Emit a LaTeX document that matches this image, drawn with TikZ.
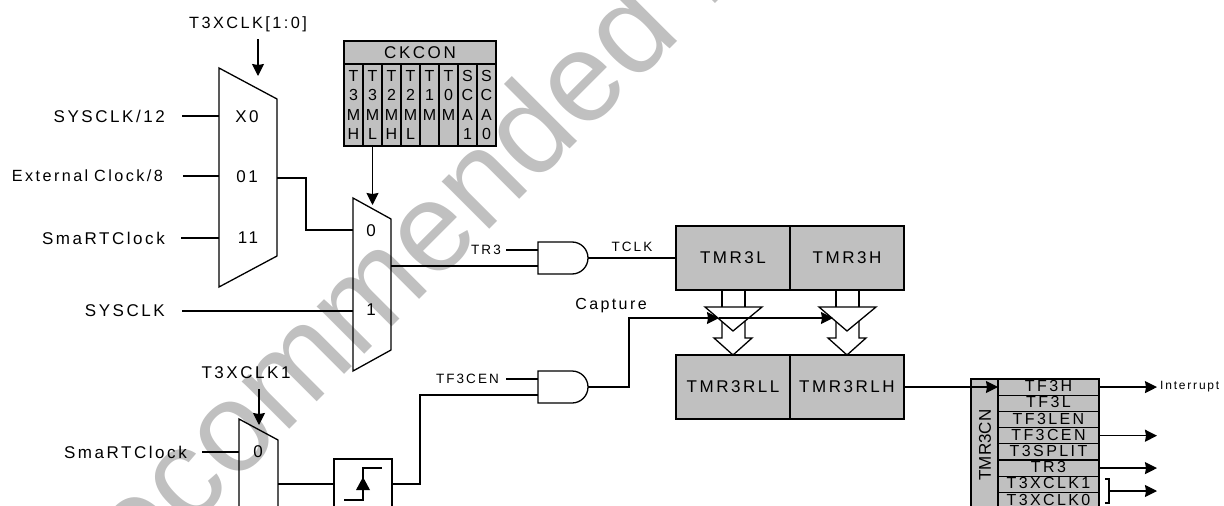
\documentclass[tikz,border=0pt]{standalone}
\usepackage{fontspec}
\setmainfont[LetterSpace=15,WordSpace=0.85]{Liberation Sans}
\newfontfamily\markfont{Liberation Sans}
\definecolor{regfill}{RGB}{192,192,192}
\usetikzlibrary{positioning,arrows.meta,calc}
\begin{document}
\begin{tikzpicture}[x=1pt,y=-1pt,
      wire/.style={line width=1.3pt,black},
      arr/.style={wire,-{Stealth[length=12pt,width=12pt,inset=1pt]}},
      regbox/.style={rectangle,draw,line width=1.3pt,fill=regfill,inner sep=0pt,outer sep=0pt,
                     minimum width=114pt,minimum height=64pt,font=\fontsize{17}{17}\selectfont},
      bitbox/.style={rectangle,draw,line width=1.3pt,fill=regfill,inner sep=0pt,outer sep=0pt,text depth=2pt,
                     minimum width=101pt,minimum height=16.2pt,font=\fontsize{16}{16}\selectfont},
      colbox/.style={rectangle,draw,line width=1.3pt,fill=regfill,inner sep=0pt,outer sep=0pt,anchor=north west,
                     minimum width=19pt,minimum height=82pt,align=center,
                     font=\fontsize{16}{19.3}\selectfont},
      lbl/.style={font=\fontsize{17}{17}\selectfont,inner sep=0pt},
      small/.style={font=\fontsize{13.5}{13.5}\selectfont,inner sep=0pt},
      block/.style={line width=1.3pt,fill=white}]
      \useasboundingbox (0,0) rectangle (1224,506);
      \clip (0,0) rectangle (1224,506);
      % watermark
      \node[rotate=45,text=regfill,inner sep=0pt,anchor=base west,font=\fontsize{127}{127}\markfont] (mark) at (74,645) {Recommended for};
      % first mux
      \draw[wire] (219,68) -- (277,99) -- (277,256) -- (219,287) -- cycle;
      \node[lbl] (x0) at (247,117) {X0};
      \node[lbl] (m01) at (247,177) {01};
      \node[lbl] (m11) at (248,238) {11};
      \coordinate (in0) at (219,116);
      \coordinate (in1) at (219,176);
      \coordinate (in2) at (219,238);
      \coordinate (sel0) at (258,76);
      \node[lbl,anchor=east] (sysdiv) at (165,116) {SYSCLK/12};
      \node[lbl,anchor=east,font=\fontsize{16.2}{17}\selectfont] (extclk) at (163,176) {External Clock/8};
      \node[lbl,anchor=east] (rtc) at (165,238) {SmaRTClock};
      \node[lbl,font=\fontsize{16.3}{17}\selectfont] (t3sel) at (248,24) {T3XCLK[1:0]};
      \draw[wire] (182,116) -- (in0);
      \draw[wire] (183,176) -- (in1);
      \draw[wire] (181,238) -- (in2);
      \draw[arr] (258,39) -- (sel0);
      % second mux
      \draw[wire] (353,198) -- (391,219) -- (391,350) -- (353,371) -- cycle;
      \node[lbl] (m0) at (371,231) {0};
      \node[lbl] (m1) at (371,310) {1};
      \node[lbl,anchor=east] (sysclk) at (165,311) {SYSCLK};
      \draw[wire] (277,178) -- (306,178) -- (306,230) -- (353,230);
      \draw[wire] (182,311) -- (353,311);
      % ckcon
      \node[rectangle,draw,line width=1.3pt,fill=regfill,anchor=north west,inner sep=0pt,outer sep=0pt,
            minimum width=152pt,minimum height=23pt,font=\fontsize{17}{17}\selectfont] (ckcon) at (344,41) {CKCON};
      \foreach \name/\bits [count=\i from 0] in {a/{T\\3\\M\\H},b/{T\\3\\M\\L},c/{T\\2\\M\\H},d/{T\\2\\M\\L},
                                                 e/{T\\1\\M\\~},f/{T\\0\\M\\~},g/{S\\C\\A\\1},h/{S\\C\\A\\0}}
        \node[colbox] (bit\name) at (344+19*\i,64) {\bits};
      \coordinate (sel1) at (372.5,205);
      \draw[arr] (bitb.south) -- (sel1);
      % first and gate
      \draw[wire] (538,242) -- (572,242) arc (90:-90:16 and -16) -- (538,274) -- cycle;
      \coordinate (and1out) at (588,258);
      \node[small] (tr3) at (486,250) {TR3};
      \draw[wire] (506,250) -- (538,250);
      \draw[wire] (391,266) -- (538,266);
      \node[regbox,anchor=north west] (tmrl) at (676,226) {TMR3L};
      \node[regbox,right=0pt of tmrl] (tmrh) {TMR3H};
      \node[regbox,anchor=north west] (rll) at (676,355) {TMR3RLL};
      \node[regbox,right=0pt of rll] (rlh) {TMR3RLH};
      \draw[wire] (and1out) -- (tmrl.west);
      \node[small] (tclk) at (632,247) {TCLK};
      % reload paths
      \foreach \c in {733,847} {
        \draw[wire] (\c-11,290) -- (\c-11,307);
        \draw[wire] (\c+12,290) -- (\c+12,307);
        \draw[block] (\c-11,315) -- (\c-11,338) -- (\c-19,338) -- (\c,355) -- (\c+19,338) -- (\c+12,338) -- (\c+12,315);
        \draw[block] (\c-28,307) -- (\c+29,307) -- (\c,331) -- cycle;
      }
      \node[lbl,font=\fontsize{16}{16}\selectfont] (capture) at (611,306) {Capture};
      % second and gate
      \draw[wire] (538,371) -- (572,371) arc (90:-90:16 and -16) -- (538,403) -- cycle;
      \coordinate (and2out) at (588,387);
      \node[small,anchor=east] (tfcen) at (499,379) {TF3CEN};
      \draw[wire] (506,379) -- (538,379);
      \draw[arr] (and2out) -- (629,387) -- (629,318) -- (719,318);
      \draw[arr] (719,318) -- (833,318);
      % third mux and edge detector
      \draw[wire] (239,419) -- (278,440) -- (278,540) -- (239,540) -- cycle;
      \node[lbl] (m30) at (258,452) {0};
      \node[lbl,anchor=east] (rtc2) at (187,452) {SmaRTClock};
      \node[lbl] (t3bit) at (246,373) {T3XCLK1};
      \draw[wire] (202,452) -- (239,452);
      \draw[arr] (259,389) -- (259,425);
      \node[rectangle,draw,line width=1.3pt,anchor=north west,inner sep=0pt,outer sep=0pt,
            minimum width=58pt,minimum height=70pt] (edge) at (334,459) {};
      \draw[wire] (278,484) -- (334,484);
      \draw[wire] (344,500) -- (363,500) -- (363,468) -- (382,468);
      \fill (363,477) -- (370,490) -- (356,490) -- cycle;
      \draw[wire] (392,484) -- (420,484) -- (420,395) -- (538,395);
      % tmr3cn register
      \node[rectangle,draw,line width=1.3pt,fill=regfill,anchor=north west,inner sep=0pt,outer sep=0pt,
            minimum width=27pt,minimum height=150pt] (cn) at (971,379) {};
      \node[rotate=90,font=\fontsize{17}{17}\markfont,inner sep=0pt] (cnlabel) at (985,445) {TMR3CN};
      \foreach \name/\txt [count=\i from 0] in {tfh/TF3H,tfl/TF3L,tflen/TF3LEN,tfcen2/TF3CEN,split/T3SPLIT,
                                                trr/TR3,clka/T3XCLK1,clkb/T3XCLK0}
        \node[bitbox,anchor=north west] (\name) at (998,379+16.2*\i) {\txt};
      \coordinate (tipx) at (1157,0);
      \draw[arr] (rlh.east) -- (rlh.east -| tfh.west);
      \draw[arr] (tfh.east) -- (tfh.east -| tipx);
      \node[small,anchor=west,font=\fontsize{12}{12}\selectfont] (irq) at (1160,387) {Interrupt};
      \draw[arr] (tfcen2.east) -- (tfcen2.east -| tipx);
      \draw[arr] (trr.east) -- (trr.east -| tipx);
      \coordinate (brk) at (1109,491);
      \draw[wire] (1105,479) -- (1109,479) -- (1109,503) -- (1105,503);
      \draw[arr] (brk) -- (brk -| tipx);
    \end{tikzpicture}
\end{document}
